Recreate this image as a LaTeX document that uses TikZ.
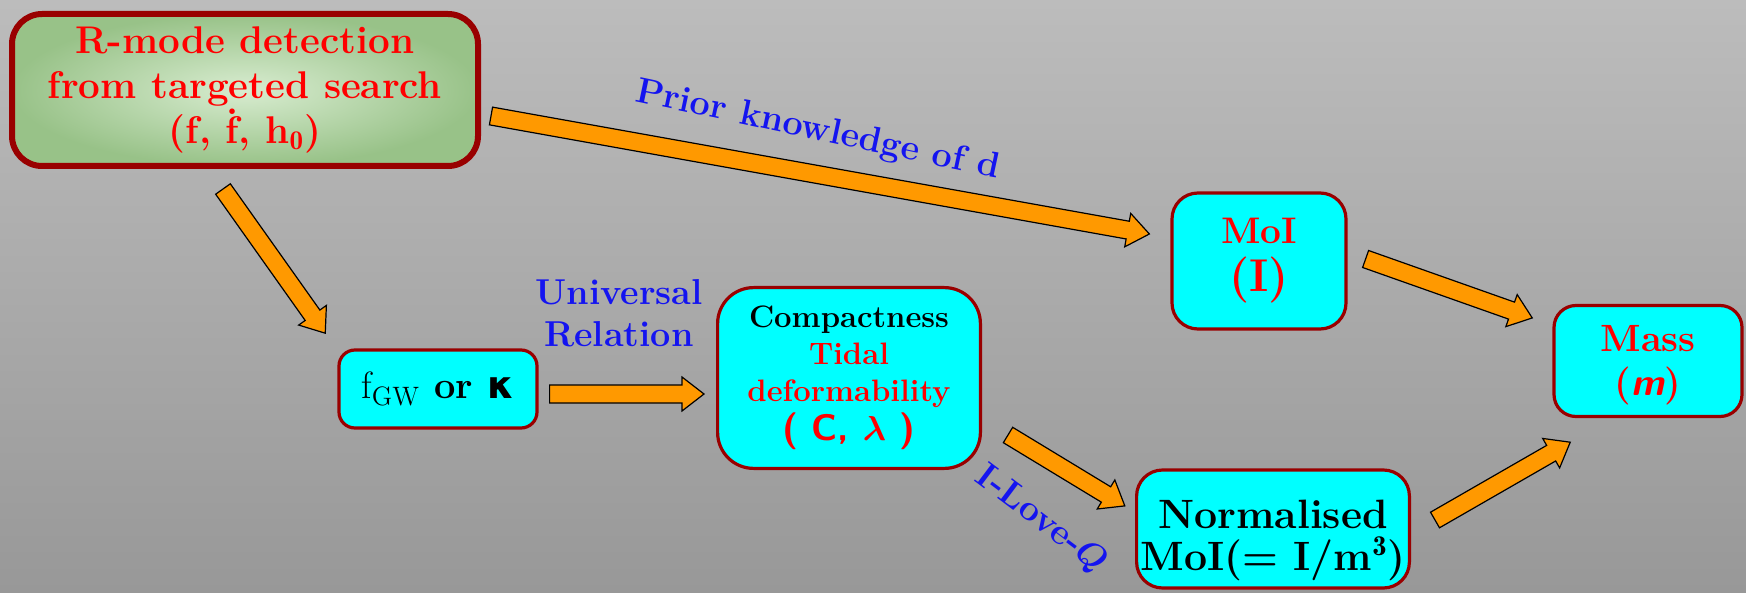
\documentclass[tikz,border=0pt]{standalone}
\usepackage{amsmath}
\usepackage{bm}
\usepackage{fontspec}
\usepackage{tikz}
\usetikzlibrary{calc}

\newfontfamily\greekfont{DejaVu Sans}

\definecolor{boxred}{RGB}{153,0,0}
\definecolor{boxcyan}{RGB}{0,255,255}
\definecolor{arrorange}{RGB}{255,153,0}
\definecolor{lblblue}{RGB}{20,20,240}
\definecolor{bgtop}{RGB}{188,188,188}
\definecolor{bgbot}{RGB}{152,152,152}
\definecolor{greenin}{RGB}{216,236,208}
\definecolor{greenout}{RGB}{152,194,136}

% f with a dot on top
\newcommand{\fdot}{\ooalign{f\cr\hidewidth\raisebox{0.74em}{.}\hidewidth\cr}}

% block arrow from #1 to #2
\newcommand{\flowarrow}[2]{%
	\draw[flow] let \p1=(#1), \p2=(#2), \n1={atan2(\y2-\y1,\x2-\x1)}, \n3={veclen(\x2-\x1,\y2-\y1)-11pt}, \n4={veclen(\x2-\x1,\y2-\y1)} in
	[shift={(\p1)}, rotate=\n1] (0pt,-4.5pt) -- (\n3,-4.5pt) -- (\n3,-8.5pt) -- (\n4,0pt) -- (\n3,8.5pt) -- (\n3,4.5pt) -- (0pt,4.5pt) -- cycle;}

\begin{document}
\begin{tikzpicture}[x=0.5pt, y=-0.5pt,
	box/.style={draw=boxred, line width=1.6pt, fill=boxcyan, rounded corners=#1, align=center, inner sep=0pt},
	box/.default=10pt,
	flow/.style={draw=black, line width=0.6pt, fill=arrorange},
	lbl/.style={text=lblblue, font=\fontsize{18}{21}\selectfont\bfseries, align=center}]
	\shade[top color=bgtop, bottom color=bgbot] (0,0) rectangle (1746,593);
	\useasboundingbox (0,0) rectangle (1746,593);

	\node[box=15pt, line width=3pt, shading=radial, inner color=greenin, outer color=greenout, minimum width=233pt, minimum height=76pt, text=red, font=\fontsize{19.3}{22.5}\selectfont\bfseries] (rmode) at (245,90)
		{R-mode detection\\from targeted search\\(f, \fdot, h$_{\mathbf{0}}$)};
	\node[box=8pt, minimum width=99pt, minimum height=39pt, font=\fontsize{19}{22}\selectfont\bfseries] (fgw) at (438,389)
		{{\mdseries f}$_{\mathrm{GW}}$ or {\greekfont κ}};
	\node[box=18pt, minimum width=131.4pt, minimum height=90.4pt, font=\fontsize{15.5}{18.5}\selectfont\bfseries] (compact) at (849,378)
		{Compactness\\ \textcolor{red}{Tidal}\\ \textcolor{red}{deformability}\\[1pt] {\fontsize{18.5}{22}\selectfont\sffamily\color{red}( C, $\boldsymbol{\lambda}$ )}};
	\node[box=13pt, minimum width=87pt, minimum height=68pt, text=red, font=\fontsize{18.5}{24}\selectfont\bfseries] (moi) at (1259,261)
		{MoI\\{\fontsize{23}{24}\selectfont (I)}};
	\node[box=13pt, minimum width=136.4pt, minimum height=59pt, font=\fontsize{20.5}{21}\selectfont\bfseries] (normmoi) at (1273,529)
		{\rule{0pt}{26pt}Normalised\\MoI(= I/m$^{\mathbf{3}}$)};
	\node[box=11pt, minimum width=94pt, minimum height=55.5pt, text=red, font=\fontsize{19}{22}\selectfont\bfseries] (mass) at (1648,361)
		{\rule{0pt}{17pt}Mass\\({\sffamily\itshape m})};

	\node[lbl, rotate=-12] (prior) at (818,131) {Prior knowledge of d};
	\node[lbl] (univ) at (619,313) {Universal\\Relation};
	\node[lbl, rotate=-37] (ilove) at (1041,520) {I-Love-$\boldsymbol{Q}$};

	\flowarrow{$(rmode.east)+(10,26)$}{$(moi.west)+(-21,-27)$}
	\flowarrow{$(rmode.south)+(-22,20)$}{$(fgw.north west)+(-12,-15)$}
	\flowarrow{$(fgw.east)+(11,5)$}{$(compact.west)+(-12,16)$}
	\flowarrow{$(compact.east)+(26,57)$}{$(normmoi.west)+(-10,-23)$}
	\flowarrow{$(moi.east)+(18,-2)$}{$(mass.west)+(-20,-43)$}
	\flowarrow{$(normmoi.east)+(24,-9)$}{$(mass.south west)+(18,24)$}
\end{tikzpicture}
\end{document}
